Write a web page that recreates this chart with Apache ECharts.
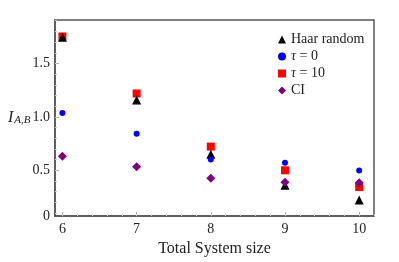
<!DOCTYPE html>
<html>
<head>
<meta charset="utf-8">
<script src="https://cdn.jsdelivr.net/npm/echarts@6/dist/echarts.min.js"></script>
<style>html,body{margin:0;padding:0;background:#fff}#c{width:399px;height:262px}</style>
</head>
<body>
<div id="c"></div>
<script>
const sizes = [6, 7, 8, 9, 10];
const haar = [1.745, 1.157, 0.651, 0.361, 0.222];
const tau0 = [1.037, 0.843, 0.602, 0.571, 0.497];
const tau10 = [1.753, 1.219, 0.722, 0.500, 0.343];
const ci = [0.632, 0.534, 0.426, 0.389, 0.383];
const xTickLabels = [6, 7, 8, 9, 10];
const yTickLabels = [0, 0.5, 1.0, 1.5];

const serif = '"Liberation Serif", "DejaVu Serif", serif';
const X_MIN = 5.9, X_MAX = 10.2, Y_MIN = 0.071, Y_MAX = 1.907;
const frame = '#555';
const tickCol = '#aaa';

function range(a, b, s) { const r = []; for (let v = a; v <= b + 1e-9; v += s) r.push(+v.toFixed(3)); return r; }
const xMinor = range(6, 10.2, 0.2);
const yMinor = range(0.1, 1.9, 0.1);
const yLabelVals = yTickLabels.map(v => v === 0 ? Y_MIN : v);

const pts = arr => sizes.map((s, i) => [s, arr[i]]);

const chart = echarts.init(document.getElementById('c'), null, { renderer: 'canvas' });
chart.setOption({
  animation: false,
  backgroundColor: '#fff',
  grid: { left: 55, right: 25, top: 20, bottom: 44, show: true, borderColor: frame, borderWidth: 1.5, backgroundColor: 'transparent' },
  xAxis: [{
    type: 'value', min: X_MIN, max: X_MAX,
    axisLine: { show: true, lineStyle: { color: frame, width: 1.5 } },
    splitLine: { show: false },
    axisTick: { show: true, inside: true, length: 4, customValues: xTickLabels, lineStyle: { color: tickCol } },
    axisLabel: { customValues: xTickLabels, color: '#222', fontFamily: serif, fontSize: 14, margin: 6, formatter: v => String(v) },
    name: 'Total System size', nameLocation: 'middle', nameGap: 23,
    nameTextStyle: { fontFamily: serif, fontSize: 16, color: '#222' }
  }, {
    type: 'value', min: X_MIN, max: X_MAX, position: 'bottom', show: true,
    axisLine: { show: false }, splitLine: { show: false },
    axisTick: { show: true, inside: true, length: 2, customValues: xMinor, lineStyle: { color: '#ccc' } },
    axisLabel: { show: false }
  }],
  yAxis: [{
    type: 'value', min: Y_MIN, max: Y_MAX,
    axisLine: { show: true, lineStyle: { color: frame, width: 1.5 } },
    splitLine: { show: false },
    axisTick: { show: true, inside: true, length: 4, customValues: [0.5, 1.0, 1.5], lineStyle: { color: tickCol } },
    axisLabel: { customValues: yLabelVals, color: '#222', fontFamily: serif, fontSize: 14, margin: 5,
      formatter: v => v < 0.1 ? '0' : v.toFixed(1) }
  }, {
    type: 'value', min: Y_MIN, max: Y_MAX, position: 'left', show: true,
    axisLine: { show: false }, splitLine: { show: false },
    axisTick: { show: true, inside: true, length: 2, customValues: yMinor, lineStyle: { color: '#ccc' } },
    axisLabel: { show: false }
  }],
  legend: {
    orient: 'vertical', left: 273, top: 26, itemGap: 0, itemWidth: 8, itemHeight: 8,
    data: ['Haar random', 'τ = 0', 'τ = 10', 'CI'],
    textStyle: { fontFamily: serif, fontSize: 14, color: '#222', lineHeight: 17,
      rich: { i: { fontFamily: serif, fontSize: 14, fontStyle: 'italic', color: '#222' }, n: { fontFamily: serif, fontSize: 14, color: '#222' } } },
    formatter: name => name.startsWith('τ') ? '{i|τ}{n|' + name.slice(1) + '}' : name
  },
  graphic: [{
    type: 'text', left: 8, top: 110,
    style: {
      text: '{a|I}{b|A,B}',
      rich: {
        a: { fontFamily: serif, fontSize: 16, fontStyle: 'italic', fill: '#222', verticalAlign: 'bottom' },
        b: { fontFamily: serif, fontSize: 11, fontStyle: 'italic', fill: '#222', padding: [6, 0, 0, 1] }
      }
    }
  }],
  series: [
    { name: 'τ = 10', type: 'scatter', z: 2, symbol: 'rect', symbolSize: 8, itemStyle: { color: '#ff0000', opacity: 1 }, data: pts(tau10) },
    { name: 'Haar random', type: 'scatter', z: 3, symbol: 'triangle', symbolSize: 9, itemStyle: { color: '#000', opacity: 1 }, data: pts(haar) },
    { name: 'τ = 0', type: 'scatter', z: 4, symbol: 'circle', symbolSize: 6, itemStyle: { color: '#0000ff', opacity: 1 }, data: pts(tau0) },
    { name: 'CI', type: 'scatter', z: 5, symbol: 'diamond', symbolSize: 9, itemStyle: { color: '#800080', opacity: 1 }, data: pts(ci) }
  ]
});
</script>
</body>
</html>
